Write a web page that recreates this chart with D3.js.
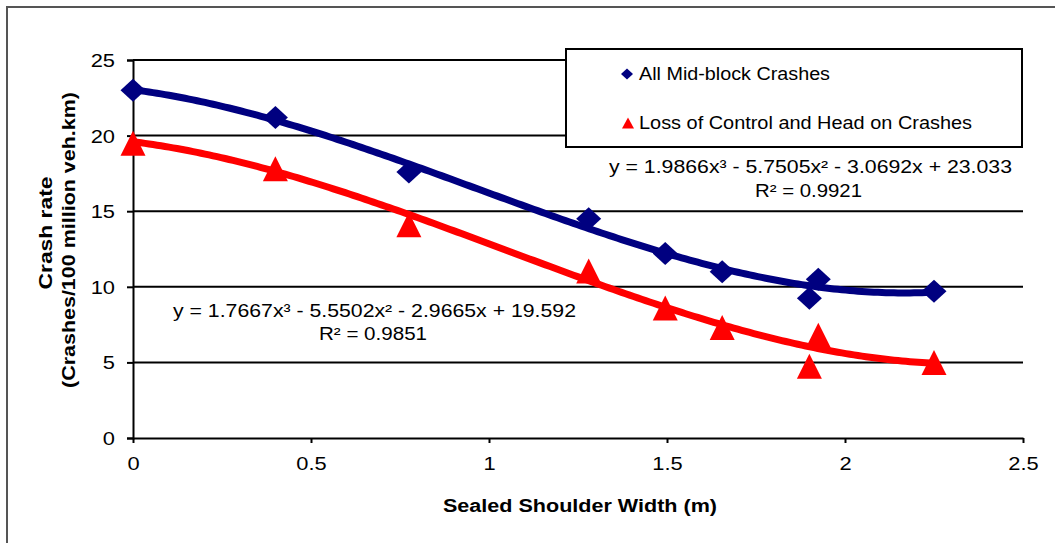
<!DOCTYPE html>
<html>
<head>
<meta charset="utf-8">
<script src="https://cdn.jsdelivr.net/npm/d3@7"></script>
<style>
  html, body { margin: 0; padding: 0; background: #fff; }
  svg { display: block; }
  text { font-family: "Liberation Sans", Arial, sans-serif; fill: #000; }
</style>
</head>
<body>
<svg id="chart" width="1055" height="543"></svg>
<script>
// Sealed shoulder width (m) for each site group
const shoulderWidth = [0, 0.40, 0.775, 1.28, 1.495, 1.655, 1.90, 1.925, 2.25];
// Crash rates (crashes / 100 million veh.km)
const allMidBlock = [23.0, 21.2, 17.6, 14.5, 12.2, 11.0, 9.25, 10.5, 9.7];
const lossOfControl = [19.5, 17.8, 14.1, 11.05, 8.6, 7.3, 4.75, 6.8, 5.0];
// Cubic trendline coefficients [x^3, x^2, x, constant]
const allMidBlockFit = [1.9866, -5.7505, -3.0692, 23.033];
const lossOfControlFit = [1.7667, -5.5502, -2.9665, 19.592];
const allMidBlockR2 = 0.9921;
const lossOfControlR2 = 0.9851;
// Axis ticks
const xTicks = [0, 0.5, 1, 1.5, 2, 2.5];
const yTicks = [0, 5, 10, 15, 20, 25];
const seriesNames = ["All Mid-block Crashes", "Loss of Control and Head on Crashes"];

const svg = d3.select("#chart");
const x = d3.scaleLinear().domain([0, 2.5]).range([133, 1023]);
const y = d3.scaleLinear().domain([0, 25]).range([438, 60]);

const NAVY = "#000080", RED = "#ff0000";

// stretch text horizontally (glyphs are drawn wide in this chart)
function widen(sel, k) {
  sel.each(function () {
    const w = this.getComputedTextLength();
    d3.select(this).attr("textLength", w * k).attr("lengthAdjust", "spacingAndGlyphs");
  });
}
function fit(sel, w) {
  sel.attr("textLength", w).attr("lengthAdjust", "spacingAndGlyphs");
}

// outer frame
svg.append("rect").attr("x", 7).attr("y", 7).attr("width", 1060).attr("height", 560)
  .attr("fill", "none").attr("stroke", "#555").attr("stroke-width", 2);

// horizontal gridlines
svg.append("g").selectAll("line").data(yTicks.filter(d => d > 0)).join("line")
  .attr("x1", x(0)).attr("x2", x(2.5))
  .attr("y1", d => y(d)).attr("y2", d => y(d))
  .attr("stroke", "#000").attr("stroke-width", 2);

// y axis
const yAxis = svg.append("g").attr("transform", `translate(${x(0)},0)`)
  .call(d3.axisLeft(y).tickValues(yTicks).tickSize(6).tickPadding(12).tickFormat(d3.format("d")));
yAxis.select(".domain").attr("stroke", "#000").attr("stroke-width", 2);
yAxis.selectAll(".tick line").attr("stroke", "#000").attr("stroke-width", 2);
yAxis.selectAll(".tick text").attr("font-size", 19).attr("font-family", "Liberation Sans, Arial, sans-serif")
  .attr("fill", "#000").attr("dy", "0.34em");
widen(yAxis.selectAll(".tick text"), 1.15);

// x axis
const xAxis = svg.append("g").attr("transform", `translate(0,${y(0)})`)
  .call(d3.axisBottom(x).tickValues(xTicks).tickSize(5).tickSizeOuter(0).tickPadding(14)
    .tickFormat(d => String(d)));
xAxis.select(".domain").attr("stroke", "#000").attr("stroke-width", 2);
xAxis.selectAll(".tick line").attr("stroke", "#000").attr("stroke-width", 2);
xAxis.selectAll(".tick text").attr("font-size", 19).attr("font-family", "Liberation Sans, Arial, sans-serif")
  .attr("fill", "#000").attr("dy", "0.71em");
widen(xAxis.selectAll(".tick text"), 1.15);

// axis titles
fit(svg.append("text").attr("x", 580).attr("y", 512).attr("text-anchor", "middle")
  .attr("font-weight", "bold").attr("font-size", 18).text("Sealed Shoulder Width (m)"), 274);
fit(svg.append("text").attr("transform", "translate(52,233) rotate(-90)").attr("text-anchor", "middle")
  .attr("font-weight", "bold").attr("font-size", 18).text("Crash rate"), 113);
fit(svg.append("text").attr("transform", "translate(75,240) rotate(-90)").attr("text-anchor", "middle")
  .attr("font-weight", "bold").attr("font-size", 18).text("(Crashes/100 million veh.km)"), 296);

// trendlines
const poly = c => v => c[0] * v ** 3 + c[1] * v ** 2 + c[2] * v + c[3];
const [xMin, xMax] = d3.extent(shoulderWidth);
const steps = d3.range(xMin, xMax + 1e-9, (xMax - xMin) / 200);
const line = d3.line().x(d => x(d[0])).y(d => y(d[1])).curve(d3.curveLinear);

function trend(coef, color) {
  const f = poly(coef);
  svg.append("path").datum(steps.map(v => [v, f(v)]))
    .attr("d", line).attr("fill", "none").attr("stroke", color)
    .attr("stroke-width", 7).attr("stroke-linejoin", "round").attr("stroke-linecap", "butt");
}
trend(allMidBlockFit, NAVY);
trend(lossOfControlFit, RED);

// markers
const diamond = (hw, hh) => `M0,${-hh}L${hw},0L0,${hh}L${-hw},0Z`;
const triangle = (hw, h) => `M0,${-h / 2}L${hw},${h / 2}L${-hw},${h / 2}Z`;

svg.append("g").selectAll("path").data(shoulderWidth.map((v, i) => [v, allMidBlock[i]])).join("path")
  .attr("transform", d => `translate(${x(d[0])},${y(d[1])})`)
  .attr("d", diamond(12.5, 11.5)).attr("fill", NAVY);
svg.append("g").selectAll("path").data(shoulderWidth.map((v, i) => [v, lossOfControl[i]])).join("path")
  .attr("transform", d => `translate(${x(d[0])},${y(d[1])})`)
  .attr("d", triangle(12.5, 25)).attr("fill", RED);

// legend
const lg = svg.append("g");
lg.append("rect").attr("x", 566).attr("y", 49).attr("width", 456).attr("height", 98)
  .attr("fill", "#fff").attr("stroke", "#000").attr("stroke-width", 2);
lg.append("path").attr("transform", "translate(627,74)").attr("d", diamond(6, 5.5)).attr("fill", NAVY);
lg.append("path").attr("transform", "translate(628,123)").attr("d", triangle(6, 11)).attr("fill", RED);
fit(lg.append("text").attr("x", 639).attr("y", 80).attr("font-size", 17.5).text(seriesNames[0]), 191);
fit(lg.append("text").attr("x", 639).attr("y", 129).attr("font-size", 17.5).text(seriesNames[1]), 333);

// trendline equations
const num = v => Math.abs(v).toFixed(4).replace(/0+$/, "").replace(/\.$/, "");
function equation(c) {
  const s = v => (v < 0 ? " - " : " + ");
  return `y = ${num(c[0])}x³${s(c[1])}${num(c[1])}x²${s(c[2])}${num(c[2])}x${s(c[3])}${num(c[3])}`;
}
fit(svg.append("text").attr("x", 609).attr("y", 173).attr("font-size", 18).text(equation(allMidBlockFit)), 403);
fit(svg.append("text").attr("x", 755).attr("y", 197).attr("font-size", 18).text(`R² = ${allMidBlockR2}`), 107);
fit(svg.append("text").attr("x", 173).attr("y", 317).attr("font-size", 18).text(equation(lossOfControlFit)), 403);
fit(svg.append("text").attr("x", 319).attr("y", 340).attr("font-size", 18).text(`R² = ${lossOfControlR2}`), 108);
</script>
</body>
</html>
